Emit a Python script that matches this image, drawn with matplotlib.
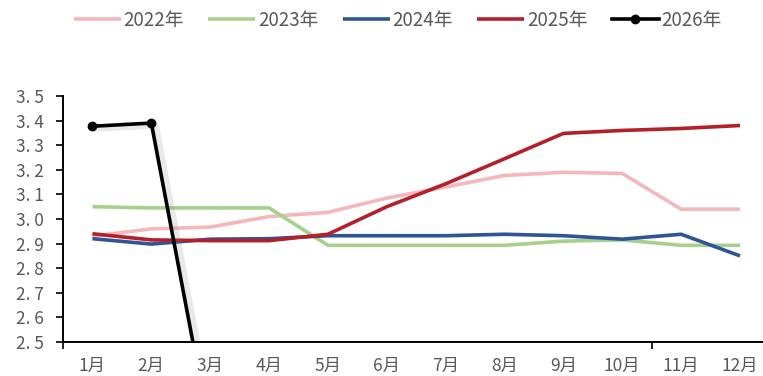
import matplotlib.pyplot as plt
import matplotlib.patheffects as pe

plt.rcParams['font.family'] = ['Noto Sans CJK SC', 'DejaVu Sans']

months = ["1月", "2月", "3月", "4月", "5月", "6月", "7月", "8月", "9月", "10月", "11月", "12月"]

y2022 = [2.93, 2.96, 2.967, 3.01, 3.027, 3.085, 3.13, 3.177, 3.19, 3.185, 3.04, 3.04]
y2023 = [3.05, 3.045, 3.045, 3.045, 2.893, 2.893, 2.893, 2.893, 2.91, 2.915, 2.893, 2.893]
y2024 = [2.92, 2.898, 2.918, 2.92, 2.932, 2.932, 2.932, 2.938, 2.932, 2.918, 2.938, 2.85]
y2025 = [2.94, 2.915, 2.912, 2.912, 2.938, 3.05, 3.143, 3.245, 3.348, 3.36, 3.368, 3.38]
y2026 = [3.377, 3.39, 2.13]

y_ticks = [2.5, 2.6, 2.7, 2.8, 2.9, 3.0, 3.1, 3.2, 3.3, 3.4, 3.5]
y_tick_labels = ["2. 5", "2. 6", "2. 7", "2. 8", "2. 9", "3. 0", "3. 1", "3. 2", "3. 3", "3. 4", "3. 5"]

fig = plt.figure(figsize=(7.63, 3.76), dpi=100)
ax = fig.add_axes([63 / 763, 1 - 342 / 376, 1 - 63 / 763, (342 - 96) / 376])

x = list(range(len(months)))
ax.plot(x, y2022, color="#f4b8bc", lw=2.6, label="2022年", solid_capstyle="butt")
ax.plot(x, y2023, color="#a8d08d", lw=2.6, label="2023年", solid_capstyle="butt")
ax.plot(x, y2024, color="#2f5597", lw=2.6, label="2024年", solid_capstyle="butt")
ax.plot(x, y2025, color="#b4202a", lw=2.6, label="2025年", solid_capstyle="butt")
# soft shadow under the 2026 line
ax.plot(x[:len(y2026)], y2026, color="black", lw=2.6,
        path_effects=[pe.SimpleLineShadow(offset=(3, -1.5), shadow_color="#888888", alpha=0.18, linewidth=5)])
ax.plot(x[:len(y2026)], y2026, color="black", lw=2.6, marker="o", ms=6, label="2026年")

ax.set_xlim(-0.5, 11.39)
ax.set_ylim(2.5, 3.5)
ax.set_yticks(y_ticks)
ax.set_yticklabels(y_tick_labels)
ax.set_xticks(x)
ax.set_xticklabels(months)
ax.set_xticks([-0.5, 9.5], minor=True)
ax.tick_params(axis="x", which="major", length=0, pad=11, labelsize=12.5, labelcolor="#595959")
ax.tick_params(axis="x", which="minor", length=5, width=1.2, direction="out")
ax.tick_params(axis="y", length=5, width=1.2, direction="out", labelsize=12.5, labelcolor="#595959", pad=9)

for s in ["top", "right"]:
    ax.spines[s].set_visible(False)
for s in ["left", "bottom"]:
    ax.spines[s].set_linewidth(1.4)
    ax.spines[s].set_color("black")

fig.legend(loc="upper left", bbox_to_anchor=(68 / 763, 1 - 4 / 376), ncol=5, frameon=False,
           fontsize=13.5, handlelength=2.5, columnspacing=1.3, handletextpad=0.15,
           labelcolor="#595959", borderaxespad=0.0, borderpad=0.3)

fig.savefig("out.png", dpi=100)
